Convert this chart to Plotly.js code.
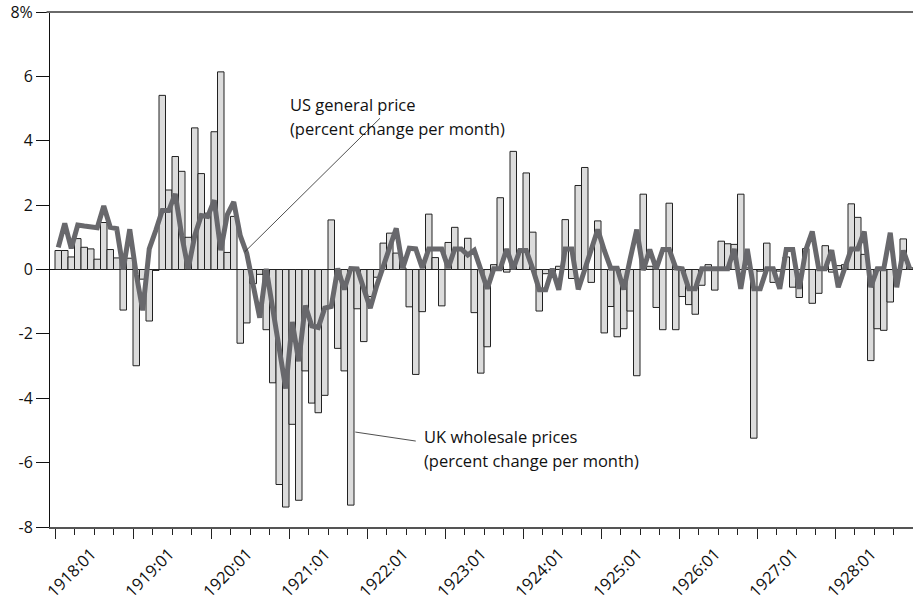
<!DOCTYPE html>
<html>
<head>
<meta charset="utf-8">
<script src="https://cdn.plot.ly/plotly-3.0.1.min.js"></script>
<style>html,body{margin:0;padding:0;background:#fff;}#chart{width:913px;height:608px;}</style>
</head>
<body>
<div id="chart"></div>
<script>
// Monthly data, 1918:01 .. 1928:12 (percent change per month)
const ukWholesale = [
  0.59, 0.59, 0.39, 0.96, 0.69, 0.64, 0.32, 1.46, 0.62, 0.36, -1.26, 0.35,
  -2.99, -0.30, -1.60, -0.03, 5.41, 2.47, 3.51, 3.05, 1.00, 4.40, 2.98, 1.75,
  4.28, 6.14, 0.53, 1.65, -2.29, -1.66, -0.44, -0.15, -1.87, -3.52, -6.68, -7.38,
  -4.81, -7.17, -3.15, -4.15, -4.45, -3.91, 1.54, -2.45, -3.15, -7.32, -1.22, -2.24,
  -0.84, -0.24, 0.82, 1.13, 0.51, 0.05, -1.16, -3.26, -1.31, 1.72, 0.37, -1.13,
  0.84, 1.31, 0.65, 0.97, -1.34, -3.22, -2.40, 0.15, 2.23, -0.08, 3.67, 0.60,
  3.00, 1.16, -1.29, -0.13, -0.10, 0.10, 1.55, -0.28, 2.61, 3.17, -0.40, 1.51,
  -1.97, -1.15, -2.09, -1.84, -1.29, -3.30, 2.34, 0.10, -1.18, -1.87, 2.06, -1.87,
  -0.84, -1.09, -1.39, -0.49, 0.15, -0.64, 0.88, 0.80, 0.78, 2.34, 0.05, -5.24,
  -0.05, 0.82, -0.40, -0.05, 0.39, -0.55, -0.87, 0.65, -1.05, -0.74, 0.74, -0.08,
  0.12, 0.15, 2.04, 1.62, 0.47, -2.83, -1.84, -1.89, -1.01, -0.05, 0.95, 0.05
];
const usGeneral = [
  0.69, 1.43, 0.66, 1.38, 1.35, 1.34, 1.30, 1.97, 1.31, 1.27, 0.00, 1.25,
  -0.15, -1.27, 0.64, 1.21, 1.83, 1.83, 2.35, 1.05, 0.02, 1.05, 1.68, 1.65,
  2.15, 0.60, 1.70, 2.10, 1.05, 0.50, -0.50, -1.50, 0.02, -1.20, -2.45, -3.70,
  -1.63, -2.85, -1.12, -1.75, -1.80, -1.20, -1.15, 0.03, -0.62, 0.03, 0.02, -0.60,
  -1.20, -0.50, 0.15, 0.69, 1.28, 0.05, 0.66, 0.64, 0.05, 0.64, 0.64, 0.64,
  0.05, 0.64, 0.64, 0.45, 0.60, 0.00, -0.60, 0.02, 0.02, 0.64, 0.02, 0.59,
  0.59, 0.02, -0.63, -0.63, 0.02, -0.63, 0.64, 0.64, -0.62, 0.00, 0.66, 1.24,
  0.60, 0.04, 0.04, -0.62, 0.34, 1.24, -0.02, 0.62, 0.02, 0.62, 0.62, 0.05,
  0.02, -0.60, -0.60, 0.02, 0.02, 0.02, 0.02, 0.02, 0.64, -0.60, 0.64, -0.60,
  -0.60, 0.02, 0.02, -0.60, 0.62, 0.62, -0.60, 0.60, 1.18, 0.02, 0.02, 0.60,
  -0.55, 0.07, 0.64, 0.64, 1.18, -0.55, 0.02, 0.02, 1.14, -0.55, 0.59, 0.02
];
const yearLabels = ['1918:01','1919:01','1920:01','1921:01','1922:01','1923:01',
                    '1924:01','1925:01','1926:01','1927:01','1928:01'];
const yTickVals = [-8, -6, -4, -2, 0, 2, 4, 6, 8];
const yTickText = ['-8', '-6', '-4', '-2', '0', '2', '4', '6', '8%'];
const usLabel = ['US general price', '(percent change per month)'];
const ukLabel = ['UK wholesale prices', '(percent change per month)'];

const xs = ukWholesale.map((_, i) => i + 0.5);
const FONT = '"Open Sans", "Noto Sans", sans-serif';

const traces = [
  {
    type: 'bar', x: xs, y: ukWholesale, width: 1,
    marker: {color: '#dcdcdc', line: {color: '#222', width: 1}},
    hoverinfo: 'skip'
  },
  {
    type: 'scatter', mode: 'lines', x: xs, y: usGeneral,
    line: {color: '#68686c', width: 5, shape: 'linear'},
    hoverinfo: 'skip'
  },
  {
    // invisible trace to carry the rotated year labels on the overlay axis
    type: 'scatter', mode: 'markers', x: [0], y: [0], xaxis: 'x2',
    marker: {opacity: 0}, hoverinfo: 'skip'
  }
];

const xRange = [-0.77, 132];
const layout = {
  width: 913, height: 608,
  margin: {l: 50, r: 0, t: 12, b: 81},
  paper_bgcolor: '#fff', plot_bgcolor: '#fff',
  showlegend: false, bargap: 0,
  font: {family: FONT, color: '#111'},
  xaxis: {
    range: xRange, showgrid: false, zeroline: false,
    showline: true, linecolor: '#555', linewidth: 1.5,
    tickmode: 'linear', tick0: 0, dtick: 12,
    ticks: 'outside', ticklen: 10, tickwidth: 1, tickcolor: '#222',
    showticklabels: false,
    minor: {tickmode: 'linear', tick0: 0, dtick: 3, ticks: 'outside', ticklen: 6, tickwidth: 1, tickcolor: '#222', showgrid: false}
  },
  xaxis2: {
    overlaying: 'x', anchor: 'y', side: 'bottom', range: xRange,
    showgrid: false, zeroline: false, showline: false, ticks: '',
    tickmode: 'array',
    tickvals: yearLabels.map((_, j) => 12 * j + 5.6),
    ticktext: yearLabels,
    tickangle: -45, ticklabelstandoff: 13,
    tickfont: {family: FONT, size: 16.5, color: '#111'}
  },
  yaxis: {
    range: [-8, 8], showgrid: false,
    zeroline: true, zerolinecolor: '#111', zerolinewidth: 1,
    showline: true, linecolor: '#111', linewidth: 1,
    tickmode: 'array', tickvals: yTickVals, ticktext: yTickText,
    ticks: 'outside', ticklen: 13, tickwidth: 1, tickcolor: '#111',
    tickfont: {family: FONT, size: 16, color: '#111'}
  },
  shapes: [
    {type: 'line', xref: 'paper', yref: 'paper', x0: -0.004, x1: 1, y0: 1, y1: 1,
     line: {color: '#6a6a6a', width: 2}},
    {type: 'line', xref: 'x', yref: 'y', x0: 29.2, y0: 0.55, x1: 50.0, y1: 4.7,
     line: {color: '#222', width: 0.8}},
    {type: 'line', xref: 'x', yref: 'y', x0: 46.2, y0: -5.05, x1: 55.5, y1: -5.33,
     line: {color: '#222', width: 0.8}}
  ],
  annotations: [
    {xref: 'x', yref: 'y', x: 35.8, y: 5.12, xanchor: 'left', yanchor: 'middle', showarrow: false,
     text: usLabel[0], font: {family: FONT, size: 16.5, color: '#111'}},
    {xref: 'x', yref: 'y', x: 35.8, y: 4.38, xanchor: 'left', yanchor: 'middle', showarrow: false,
     text: usLabel[1], font: {family: FONT, size: 16.5, color: '#111'}},
    {xref: 'x', yref: 'y', x: 56.4, y: -5.2, xanchor: 'left', yanchor: 'middle', showarrow: false,
     text: ukLabel[0], font: {family: FONT, size: 16.5, color: '#111'}},
    {xref: 'x', yref: 'y', x: 56.4, y: -5.93, xanchor: 'left', yanchor: 'middle', showarrow: false,
     text: ukLabel[1], font: {family: FONT, size: 16.5, color: '#111'}}
  ]
};

Plotly.newPlot('chart', traces, layout, {displayModeBar: false, staticPlot: true});
</script>
</body>
</html>
